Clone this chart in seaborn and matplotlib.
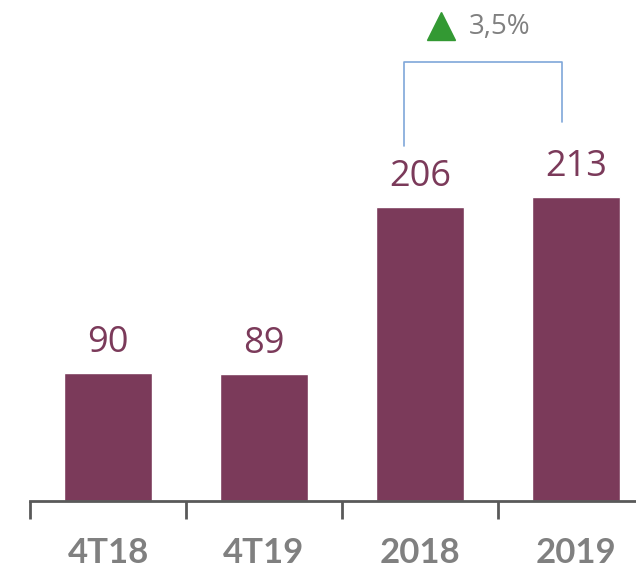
import numpy as np
import pandas as pd
import matplotlib
matplotlib.use("Agg")
import matplotlib.pyplot as plt
import seaborn as sns

# values
periods = ["4T18", "4T19", "2018", "2019"]
values = [90, 89, 206, 213]
change_label = "3,5%"

bar_color = "#7B3A5A"
grey = "#808080"

sns.set_style("white")
plt.rcParams['font.family'] = ['Open Sans', 'DejaVu Sans']

df = pd.DataFrame({"period": periods, "value": values})

fig = plt.figure(figsize=(6.36, 5.69), dpi=100)
ax = fig.add_axes([30 / 636, 68 / 569, 1 - 30 / 636, 501 / 569])

sns.barplot(data=df, x="period", y="value", color=bar_color, width=0.56,
            saturation=1, ax=ax)

ax.set_xlim(-0.5, 3.385)
ax.set_ylim(0, 351)

# value labels above bars
for i, v in enumerate(values):
    ax.text(i, v + 21, str(v), ha="center", va="center", fontsize=26,
            color=bar_color)

# bracket between 2018 and 2019
ax.plot([1.897, 1.897, 2.91, 2.91], [249, 307.6, 307.6, 265.6],
        color="#7FA7D9", lw=1.2, clip_on=False)
ax.plot([2.135], [333], marker="^", markersize=20, color="#339933",
        clip_on=False, linestyle="none")
ax.text(2.51, 332, change_label, ha="center", va="center", fontsize=20,
        color=grey)

# axis styling
for s in ["top", "right", "left"]:
    ax.spines[s].set_visible(False)
ax.spines["bottom"].set_color("#595959")
ax.spines["bottom"].set_linewidth(2)
ax.set_yticks([])
ax.set_xlabel("")
ax.set_ylabel("")
ax.set_xticks(range(len(periods)))
ax.set_xticklabels(periods, fontsize=25, fontweight="bold", color=grey,
                   family=["Lato", "DejaVu Sans"])
ax.tick_params(axis="x", which="major", length=0, pad=26)
ax.set_xticks(np.arange(-0.5, 3.5, 1), minor=True)
ax.tick_params(axis="x", which="minor", length=13, width=2, color="#595959",
               direction="out", bottom=True)

fig.savefig("out.png", dpi=100)
